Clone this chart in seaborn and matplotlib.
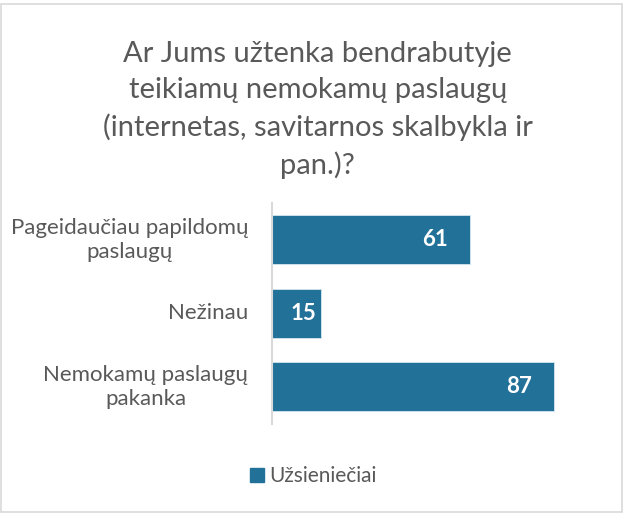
import seaborn as sns
import matplotlib.pyplot as plt
from matplotlib.patches import Rectangle
from matplotlib.lines import Line2D
from matplotlib import transforms
import pandas as pd

categories = ["Pageidaučiau papildomų\npaslaugų", "Nežinau", "Nemokamų paslaugų\npakanka"]
values = [61, 15, 87]
series_name = "Užsieniečiai"
title = "Ar Jums užtenka bendrabutyje\nteikiamų nemokamų paslaugų\n(internetas, savitarnos skalbykla ir\npan.)?"

bar_color = "#227199"
text_color = "#595959"

sns.set_theme(style="white")
plt.rcParams['font.family'] = ['Lato', 'DejaVu Sans']

df = pd.DataFrame({"cat": categories, "val": values})

fig = plt.figure(figsize=(6.23, 5.14), dpi=100)
ax = fig.add_axes([0.4366, 0.176, 0.52, 0.429])

sns.barplot(data=df, x="val", y="cat", color=bar_color, saturation=1,
            width=0.67, ax=ax, edgecolor="#d6e6ef", linewidth=0.6)

ax.set_xlim(0, 100)
ax.set_ylim(2.5, -0.5)
ax.set_xlabel("")
ax.set_ylabel("")
ax.set_xticks([])
ax.set_yticks(range(len(categories)), labels=[""] * len(categories))
ax.tick_params(axis="y", length=0)
for s in ["top", "right", "bottom"]:
    ax.spines[s].set_visible(False)
ax.spines["left"].set_color("#d9d9d9")
ax.spines["left"].set_linewidth(1.5)

# category labels drawn by hand so the two-line ones are centred
trans = transforms.blended_transform_factory(ax.transAxes, ax.transData)
for i, c in enumerate(categories):
    ax.text(-0.074, i, c, transform=trans, ha="right", va="center",
            multialignment="center", fontsize=16, color=text_color,
            linespacing=1.25)

# value labels inside the bar end
for cont in ax.containers:
    labels = ax.bar_label(cont, padding=-16, color="white", fontsize=16, fontweight="bold")
    for t, v in zip(labels, values):
        t.set_ha("right")
        if v < 20:
            t.xyann = (-3, t.xyann[1])

fig.text(0.51, 0.786, title, ha="center", va="center", multialignment="center",
         fontsize=21, color=text_color, linespacing=1.47)

handle = Line2D([], [], marker="s", linestyle="", markersize=10, color=bar_color)
fig.legend([handle], [series_name], loc="center", bbox_to_anchor=(0.5, 0.073),
           frameon=False, fontsize=15, labelcolor=text_color, handletextpad=0.1,
           handlelength=1.0)

fig.patches.append(Rectangle((0.002, 0.004), 0.996, 0.988, transform=fig.transFigure,
                             fill=False, edgecolor="#d9d9d9", linewidth=1.2))

fig.savefig("out.png", dpi=100)
